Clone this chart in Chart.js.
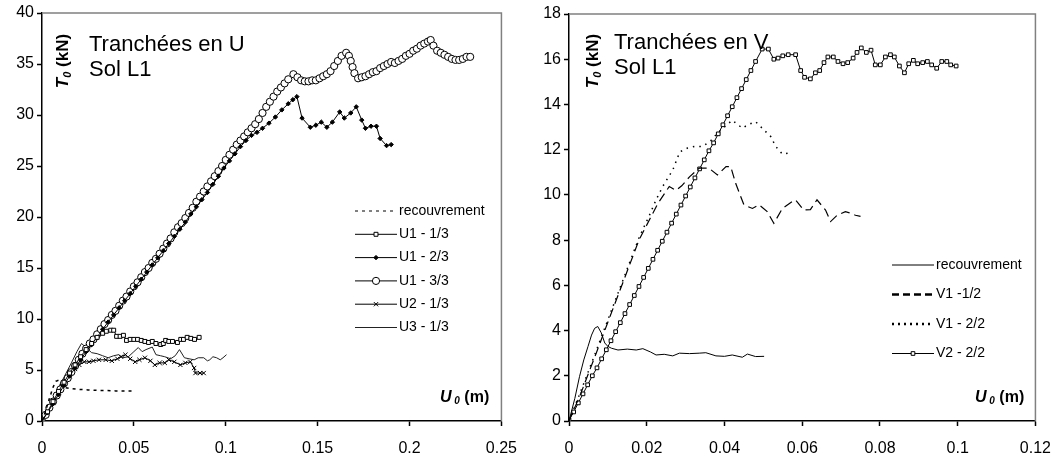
<!DOCTYPE html>
<html>
<head>
<meta charset="utf-8">
<script src="https://cdn.jsdelivr.net/npm/chart.js@4.4.0/dist/chart.umd.min.js"></script>
<style>
  body { margin: 0; background: #fff; }
  #wrap { position: relative; width: 1064px; height: 456px; overflow: hidden; }
  #left { position: absolute; left: 0; top: 0; }
  #right { position: absolute; left: 530px; top: 0; }
</style>
</head>
<body>
<div id="wrap">
  <canvas id="left" width="530" height="456"></canvas>
  <canvas id="right" width="534" height="456"></canvas>
</div>
<script>
// ---- left panel : Tranchées en U ----
const U_TICKS_X = [0, 0.05, 0.1, 0.15, 0.2, 0.25];
const U_TICKS_Y = [0, 5, 10, 15, 20, 25, 30, 35, 40];

const U_RECOUVREMENT = [[0,0],[0.002,1.0],[0.004,2.2],[0.006,3.3],[0.0075,3.9],[0.009,4.0],[0.010,3.6],[0.012,3.3],
  [0.015,3.2],[0.02,3.1],[0.025,3.05],[0.03,3.0],[0.035,3.0],[0.04,2.95],[0.045,2.95],[0.05,2.95]];

const U1_13 = [[0,0],[0.003,0.9],[0.006,1.9],[0.009,2.9],[0.012,3.8],[0.015,4.7],[0.018,5.5],[0.021,6.3],[0.024,7.0],
  [0.027,7.6],[0.030,8.2],[0.033,8.6],[0.035,8.8],[0.0374,8.9],[0.039,8.9],[0.0406,8.3],[0.0425,8.3],[0.0443,8.4],
  [0.046,7.9],[0.048,8.0],[0.050,8.0],[0.052,8.0],[0.054,7.9],[0.056,7.8],[0.058,7.7],[0.060,7.8],[0.062,7.6],
  [0.0646,7.5],[0.066,7.6],[0.0673,7.9],[0.069,7.8],[0.071,7.8],[0.0737,7.7],[0.0755,8.0],[0.077,8.0],[0.079,8.2],
  [0.081,8.1],[0.083,8.0],[0.0855,8.2]];

const U1_23 = [[0,0],[0.003,0.8],[0.006,1.7],[0.009,2.6],[0.012,3.5],[0.015,4.4],[0.018,5.2],[0.021,6.0],[0.024,6.8],
  [0.027,7.5],[0.030,8.2],[0.033,9.0],[0.036,9.7],[0.039,10.4],[0.042,11.1],[0.045,11.8],[0.048,12.5],[0.051,13.2],
  [0.054,13.9],[0.057,14.6],[0.060,15.3],[0.063,16.0],[0.066,16.7],[0.069,17.4],[0.072,18.1],[0.075,18.8],[0.078,19.5],
  [0.081,20.3],[0.084,21.0],[0.087,21.7],[0.090,22.4],[0.093,23.2],[0.096,24.0],[0.099,24.8],[0.102,25.5],[0.105,26.2],
  [0.108,26.9],[0.111,27.5],[0.114,28.0],[0.117,28.3],[0.120,28.7],[0.1235,29.2],[0.127,29.8],[0.1305,30.5],
  [0.134,31.1],[0.1365,31.5],[0.1387,31.8],[0.1415,29.7],[0.146,28.8],[0.149,29.0],[0.152,29.3],[0.155,28.8],
  [0.158,29.3],[0.162,30.3],[0.1645,29.7],[0.168,30.2],[0.171,30.8],[0.174,29.5],[0.176,28.7],[0.179,28.9],
  [0.182,28.9],[0.184,27.7],[0.1875,27.0],[0.190,27.1]];

const U1_33 = [[0,0],[0.002,0.6],[0.004,1.3],[0.006,1.9],[0.008,2.5],[0.010,3.1],[0.012,3.7],[0.014,4.2],[0.016,4.8],
  [0.018,5.4],[0.020,6.0],[0.022,6.6],[0.024,7.1],[0.026,7.6],[0.028,8.0],[0.030,8.5],[0.032,9.0],[0.034,9.5],
  [0.036,9.9],[0.038,10.4],[0.040,10.8],[0.042,11.3],[0.044,11.8],[0.046,12.2],[0.048,12.7],[0.050,13.2],[0.052,13.6],
  [0.054,14.1],[0.056,14.6],[0.058,15.0],[0.060,15.5],[0.062,15.9],[0.064,16.4],[0.066,16.9],[0.068,17.4],[0.070,17.9],
  [0.072,18.5],[0.074,19.0],[0.076,19.4],[0.078,19.9],[0.080,20.4],[0.082,20.9],[0.084,21.5],[0.086,22.0],[0.088,22.5],
  [0.090,23.0],[0.092,23.5],[0.094,24.0],[0.096,24.5],[0.098,25.0],[0.100,25.6],[0.102,26.1],[0.104,26.6],[0.106,27.1],
  [0.108,27.5],[0.110,27.9],[0.112,28.3],[0.114,28.7],[0.116,29.1],[0.118,29.6],[0.120,30.2],[0.122,30.8],[0.124,31.3],
  [0.126,31.8],[0.128,32.3],[0.130,32.7],[0.132,33.1],[0.134,33.5],[0.1368,34.0],[0.139,33.7],[0.141,33.4],[0.143,33.3],
  [0.145,33.3],[0.147,33.4],[0.149,33.4],[0.151,33.6],[0.153,33.8],[0.155,34.0],[0.157,34.3],[0.159,34.8],[0.161,35.3],
  [0.163,35.8],[0.1655,36.1],[0.167,35.8],[0.168,35.3],[0.169,34.7],[0.170,34.1],[0.172,33.6],[0.174,33.7],[0.176,33.8],
  [0.178,34.0],[0.180,34.2],[0.182,34.3],[0.184,34.6],[0.186,34.8],[0.188,35.0],[0.190,35.2],[0.192,35.1],[0.194,35.3],
  [0.196,35.5],[0.198,35.8],[0.200,36.0],[0.202,36.3],[0.204,36.5],[0.206,36.8],[0.208,37.0],[0.210,37.2],[0.2115,37.35],
  [0.213,36.8],[0.215,36.3],[0.217,36.1],[0.219,35.9],[0.221,35.7],[0.223,35.5],[0.225,35.4],[0.227,35.4],[0.229,35.5],
  [0.231,35.7],[0.233,35.7]];

const U2_13 = [[0,0],[0.003,0.9],[0.006,1.8],[0.009,2.7],[0.012,3.6],[0.015,4.4],[0.018,5.1],[0.0203,5.5],[0.023,5.8],
  [0.0256,5.8],[0.028,5.9],[0.031,6.0],[0.0347,6.0],[0.038,5.9],[0.041,6.1],[0.043,6.3],[0.0454,6.5],[0.048,6.1],
  [0.0507,5.8],[0.053,6.0],[0.056,6.2],[0.059,5.9],[0.0614,5.5],[0.064,5.7],[0.0668,5.7],[0.069,6.0],[0.072,5.8],
  [0.0753,5.5],[0.078,5.7],[0.0807,5.8],[0.0828,5.2],[0.0835,4.7],[0.086,4.7],[0.088,4.7]];

const U3_13 = [[0,0],[0.004,1.4],[0.008,2.9],[0.012,4.3],[0.016,5.7],[0.019,6.8],[0.0215,7.6],[0.024,7.2],[0.027,6.7],
  [0.03,6.6],[0.033,6.4],[0.036,6.2],[0.039,6.4],[0.0417,6.5],[0.044,6.2],[0.047,6.3],[0.05,6.8],[0.0524,7.2],
  [0.0545,6.8],[0.0566,7.0],[0.060,7.25],[0.062,6.5],[0.0645,6.4],[0.0668,6.3],[0.07,6.1],[0.0725,6.4],[0.0748,7.0],
  [0.0775,6.2],[0.080,6.1],[0.0828,6.0],[0.085,6.2],[0.088,6.2],[0.090,5.9],[0.0913,6.0],[0.093,6.3],[0.095,6.2],
  [0.097,6.0],[0.0985,6.2],[0.1004,6.5]];

// ---- right panel : Tranchées en V ----
const V_TICKS_X = [0, 0.02, 0.04, 0.06, 0.08, 0.1, 0.12];
const V_TICKS_Y = [0, 2, 4, 6, 8, 10, 12, 14, 16, 18];

const V_RECOUVREMENT = [[0,0],[0.0015,1.0],[0.0027,1.96],[0.0038,2.7],[0.0049,3.3],[0.0058,3.8],[0.0066,4.1],
  [0.0074,4.18],[0.0083,3.9],[0.0092,3.45],[0.0100,3.3],[0.0109,3.22],[0.0126,3.14],[0.015,3.18],[0.0173,3.14],
  [0.019,3.2],[0.021,3.05],[0.0224,2.92],[0.0245,2.95],[0.0267,2.88],[0.0284,3.0],[0.031,2.98],[0.0335,3.0],
  [0.0352,3.02],[0.0378,2.88],[0.04,2.86],[0.042,2.92],[0.0446,2.82],[0.0459,2.96],[0.048,2.85],[0.0502,2.86]];

const V1_12 = [[0,0],[0.003,1.2],[0.007,3.0],[0.0105,4.6],[0.0147,6.5],[0.018,8.0],[0.0207,8.9],[0.0228,9.6],
  [0.0258,10.37],[0.0275,10.2],[0.029,10.4],[0.031,10.8],[0.0335,11.18],[0.036,11.18],[0.0382,10.88],[0.0404,11.25],
  [0.0416,11.25],[0.0429,10.5],[0.045,9.56],[0.0472,9.4],[0.0489,9.56],[0.051,9.26],[0.0527,8.74],[0.0549,9.4],
  [0.0574,9.7],[0.0583,9.78],[0.0604,9.33],[0.0621,9.35],[0.0638,9.78],[0.066,9.33],[0.0673,8.82],[0.069,9.1],
  [0.0711,9.26],[0.0724,9.19],[0.0737,9.1],[0.075,9.05]];

const V1_22 = [[0,0],[0.003,1.3],[0.007,3.1],[0.0105,4.7],[0.0147,6.6],[0.018,8.1],[0.0207,9.1],[0.0224,9.78],
  [0.0241,10.37],[0.0267,11.1],[0.0285,11.9],[0.0305,12.07],[0.0325,12.15],[0.0344,12.14],[0.0365,12.4],[0.0382,12.73],
  [0.040,13.0],[0.042,13.3],[0.0435,13.1],[0.0446,12.95],[0.046,13.1],[0.048,13.24],[0.0497,12.95],[0.0519,12.58],
  [0.0532,12.14],[0.0549,11.8],[0.0565,11.85]];

const V2_22 = [[0,0.05],[0.0012,0.4],[0.0024,0.8],[0.0036,1.2],[0.0048,1.6],[0.006,2.0],[0.0072,2.35],[0.0084,2.75],
  [0.0096,3.15],[0.0108,3.55],[0.012,3.95],[0.0132,4.35],[0.0144,4.75],[0.0156,5.15],[0.0168,5.55],[0.018,5.95],
  [0.0192,6.35],[0.0204,6.75],[0.0216,7.15],[0.0228,7.55],[0.024,7.95],[0.0252,8.35],[0.0264,8.75],[0.0276,9.15],
  [0.0288,9.55],[0.03,9.95],[0.0312,10.35],[0.0324,10.75],[0.0336,11.15],[0.0348,11.55],[0.036,11.95],[0.0372,12.3],
  [0.0384,12.7],[0.0396,13.1],[0.0408,13.5],[0.042,13.9],[0.0432,14.3],[0.0444,14.7],[0.0456,15.1],[0.0468,15.5],
  [0.048,15.9],[0.0497,16.45],[0.0513,16.45],[0.0527,16.0],[0.0538,16.05],[0.055,16.15],[0.0564,16.2],[0.0583,16.2],
  [0.0596,15.5],[0.0606,15.2],[0.0621,15.13],[0.0634,15.4],[0.0645,15.5],[0.0656,15.85],[0.0666,16.1],[0.068,16.1],
  [0.0692,15.9],[0.0705,15.8],[0.0717,15.85],[0.0731,16.05],[0.0741,16.3],[0.0752,16.5],[0.0765,16.3],[0.0777,16.4],
  [0.0788,15.75],[0.0801,15.75],[0.0814,16.1],[0.0827,16.2],[0.0837,16.1],[0.085,15.7],[0.0863,15.4],[0.0874,15.8],
  [0.0886,15.95],[0.0897,15.8],[0.091,15.85],[0.0922,15.9],[0.0933,15.75],[0.0946,15.6],[0.0959,15.9],[0.0972,15.9],
  [0.0982,15.75],[0.0996,15.7]];

const FONT = '"Liberation Sans", Arial, sans-serif';
Chart.defaults.font.family = FONT;
Chart.defaults.color = '#000';

function pts(arr) {
  return arr.map(p => ({ x: p[0], y: p[1] }));
}

function fmt(v) {
  return String(+v.toFixed(3));
}

// draw text made of several runs (for italic subscripts)
function drawRuns(ctx, runs, x, y, align) {
  let total = 0;
  runs.forEach(r => { ctx.font = r.font; total += ctx.measureText(r.t).width; });
  let cx = align === 'center' ? x - total / 2 : x;
  runs.forEach(r => {
    ctx.font = r.font;
    ctx.fillText(r.t, cx, y + (r.dy || 0));
    cx += ctx.measureText(r.t).width;
  });
}

const decor = {
  id: 'decor',
  afterDraw(chart, args, opts) {
    const ctx = chart.ctx;
    const a = chart.chartArea;
    ctx.save();
    // grey frame top and right
    ctx.strokeStyle = '#808080';
    ctx.lineWidth = 1.5;
    ctx.beginPath();
    ctx.moveTo(a.left, a.top);
    ctx.lineTo(a.right, a.top);
    ctx.lineTo(a.right, a.bottom);
    ctx.stroke();

    // titles
    ctx.fillStyle = '#000';
    ctx.textBaseline = 'alphabetic';
    ctx.font = '22px ' + FONT;
    opts.title.forEach((t, i) => ctx.fillText(t, opts.titleX, opts.titleY + i * 25));

    // y axis title, rotated, inside plot
    ctx.save();
    ctx.translate(opts.yTitleX, opts.yTitleY);
    ctx.rotate(-Math.PI / 2);
    drawRuns(ctx, [
      { t: 'T', font: 'italic bold 17px ' + FONT },
      { t: '0', font: 'italic bold 11px ' + FONT, dy: 3 },
      { t: ' (kN)', font: 'bold 17px ' + FONT }
    ], 0, 6, 'center');
    ctx.restore();

    // x axis title, inside plot
    drawRuns(ctx, [
      { t: 'U', font: 'italic bold 16px ' + FONT },
      { t: ' 0', font: 'italic bold 10px ' + FONT, dy: 2 },
      { t: ' (m)', font: 'bold 16px ' + FONT }
    ], opts.xTitleX, opts.xTitleY, 'left');

    // legend
    chart.data.datasets.forEach((ds, i) => {
      const y = opts.legendY + i * opts.legendGap;
      const x0 = opts.legendX;
      ctx.strokeStyle = ds.borderColor;
      ctx.lineWidth = ds.legendWidth || ds.borderWidth;
      ctx.setLineDash(ds.legendDash || ds.borderDash || []);
      ctx.beginPath();
      ctx.moveTo(x0, y);
      ctx.lineTo(x0 + 42, y);
      ctx.stroke();
      ctx.setLineDash([]);
      if (ds.pointRadius > 0) {
        ctx.fillStyle = ds.pointBackgroundColor;
        ctx.strokeStyle = ds.pointBorderColor;
        ctx.lineWidth = 1;
        Chart.helpers.drawPoint(ctx, {
          pointStyle: ds.pointStyle, radius: ds.pointRadius, rotation: 0, borderWidth: 1
        }, x0 + 21, y);
      }
      ctx.fillStyle = '#000';
      ctx.font = '14px ' + FONT;
      ctx.textBaseline = 'middle';
      ctx.fillText(ds.label, x0 + 44, y);
    });
    ctx.restore();
  }
};

function series(label, data, extra) {
  return Object.assign({
    label: label,
    data: pts(data),
    borderColor: '#000',
    borderWidth: 1,
    pointRadius: 0,
    pointStyle: 'circle',
    pointBackgroundColor: '#fff',
    pointBorderColor: '#000',
    pointBorderWidth: 1,
    tension: 0,
    fill: false
  }, extra || {});
}

function axes(xTicks, yTicks, yWidth) {
  const tickStyle = {
    grid: { drawOnChartArea: false, drawTicks: true, tickLength: 5, tickColor: '#000', tickWidth: 1.5 },
    border: { display: true, color: '#000', width: 1.5 }
  };
  return {
    x: Object.assign({
      type: 'linear',
      min: xTicks[0],
      max: xTicks[xTicks.length - 1],
      afterBuildTicks: s => { s.ticks = xTicks.map(v => ({ value: v })); },
      afterFit: s => { s.height = 35; },
      ticks: { font: { size: 16 }, padding: 13, maxRotation: 0, callback: v => fmt(v) }
    }, tickStyle),
    y: Object.assign({
      type: 'linear',
      min: yTicks[0],
      max: yTicks[yTicks.length - 1],
      afterBuildTicks: s => { s.ticks = yTicks.map(v => ({ value: v })); },
      afterFit: s => { s.width = yWidth; },
      ticks: { font: { size: 16 }, padding: 3, callback: v => fmt(v) }
    }, tickStyle)
  };
}

new Chart(document.getElementById('left'), {
  type: 'line',
  data: {
    datasets: [
      series('recouvrement', U_RECOUVREMENT, { borderDash: [3, 4], borderWidth: 1.5, legendWidth: 1 }),
      series('U1 - 1/3', U1_13, { pointRadius: 2.8, pointStyle: 'rect' }),
      series('U1 - 2/3', U1_23, { pointRadius: 2.2, pointStyle: 'rectRot', pointBackgroundColor: '#000' }),
      series('U1 - 3/3', U1_33, { pointRadius: 3.6, pointStyle: 'circle' }),
      series('U2 - 1/3', U2_13, { pointRadius: 3, pointStyle: 'crossRot' }),
      series('U3 - 1/3', U3_13, { borderColor: '#222' })
    ]
  },
  options: {
    responsive: false,
    animation: false,
    layout: { padding: { top: 13, right: 20, left: 0, bottom: 0 } },
    scales: axes(U_TICKS_X, U_TICKS_Y, 42),
    plugins: {
      legend: { display: false },
      tooltip: { enabled: false },
      decor: {
        title: ['Tranchées en U', 'Sol L1'], titleX: 89, titleY: 51,
        yTitleX: 62, yTitleY: 61,
        xTitleX: 440, xTitleY: 402,
        legendX: 355, legendY: 211, legendGap: 23.3
      }
    }
  },
  plugins: [decor]
});

new Chart(document.getElementById('right'), {
  type: 'line',
  data: {
    datasets: [
      series('recouvrement', V_RECOUVREMENT, {}),
      series('V1 -1/2', V1_12, { borderDash: [9, 5], borderWidth: 1.2, legendWidth: 2.5, legendDash: [7, 4] }),
      series('V1 - 2/2', V1_22, { borderDash: [1.5, 5], borderWidth: 1.5, legendWidth: 2.5, legendDash: [2, 4] }),
      series('V2 - 2/2', V2_22, { pointRadius: 2.6, pointStyle: 'rect' })
    ]
  },
  options: {
    responsive: false,
    animation: false,
    layout: { padding: { top: 14, right: 27, left: 0, bottom: 0 } },
    scales: axes(V_TICKS_X, V_TICKS_Y, 39),
    plugins: {
      legend: { display: false },
      tooltip: { enabled: false },
      decor: {
        title: ['Tranchées en V', 'Sol L1'], titleX: 84, titleY: 49,
        yTitleX: 62, yTitleY: 61,
        xTitleX: 445, xTitleY: 402,
        legendX: 362, legendY: 265, legendGap: 29.5
      }
    }
  },
  plugins: [decor]
});
</script>
</body>
</html>
